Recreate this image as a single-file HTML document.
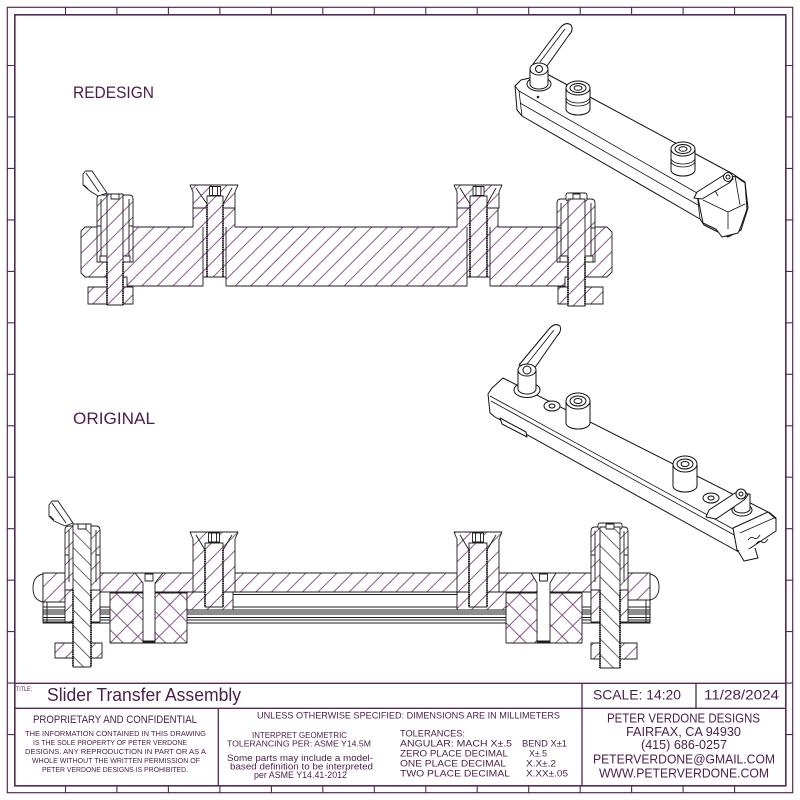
<!DOCTYPE html>
<html><head><meta charset="utf-8">
<style>
html,body{margin:0;padding:0;background:#fff;}
svg{display:block;}
.s{stroke:#1c1c1c;stroke-width:0.9;stroke-linejoin:round;}
.n{fill:none;}
.th{stroke:#222;stroke-width:2;stroke-dasharray:1.1 1.1;fill:none;}
.iso{stroke:#111;stroke-width:1;fill:#fff;stroke-linejoin:round;}
.iso .n{fill:none;stroke-width:0.8;}
.bd{fill:none;stroke:#552855;}
text{font-family:"Liberation Sans",sans-serif;fill:#4a1d4a;}
</style></head><body>
<svg width="800" height="800" viewBox="0 0 800 800" xmlns="http://www.w3.org/2000/svg">
<defs>
<pattern id="h" patternUnits="userSpaceOnUse" width="11" height="11" patternTransform="rotate(45)">
<rect width="11" height="11" fill="#fff"/>
<line x1="5.5" y1="0" x2="5.5" y2="11" stroke="#7d467d" stroke-width="0.9"/>
</pattern>
<pattern id="hr" patternUnits="userSpaceOnUse" width="11" height="11" patternTransform="rotate(-45)">
<rect width="11" height="11" fill="#fff"/>
<line x1="5.5" y1="0" x2="5.5" y2="11" stroke="#444" stroke-width="0.8"/>
</pattern>
<pattern id="x" patternUnits="userSpaceOnUse" width="15" height="15" patternTransform="rotate(45)">
<rect width="15" height="15" fill="#fff"/>
<line x1="7.5" y1="0" x2="7.5" y2="15" stroke="#7d467d" stroke-width="0.9"/>
<line x1="0" y1="7.5" x2="15" y2="7.5" stroke="#7d467d" stroke-width="0.9"/>
</pattern>
</defs>

<!-- BORDER -->
<rect x="7.3" y="7.3" width="785.4" height="785.4" class="bd" stroke-width="1.2"/>
<rect x="14.8" y="14.8" width="771" height="771" class="bd" stroke-width="1.6" stroke="#6a3d6a"/>
<path class="bd" stroke-width="1.1" d="
M65.5 7.3V14.8M116.9 7.3V14.8M168.4 7.3V14.8M219.9 7.3V14.8M271.4 7.3V14.8M322.8 7.3V14.8M374.3 7.3V14.8M425.8 7.3V14.8M477.2 7.3V14.8M528.7 7.3V14.8M580.2 7.3V14.8M631.6 7.3V14.8M683.1 7.3V14.8M734.6 7.3V14.8
M65.5 785.8V792.7M116.9 785.8V792.7M168.4 785.8V792.7M219.9 785.8V792.7M271.4 785.8V792.7M322.8 785.8V792.7M374.3 785.8V792.7M425.8 785.8V792.7M477.2 785.8V792.7M528.7 785.8V792.7M580.2 785.8V792.7M631.6 785.8V792.7M683.1 785.8V792.7M734.6 785.8V792.7
M7.3 65.5H14.8M7.3 116.9H14.8M7.3 168.4H14.8M7.3 219.9H14.8M7.3 271.4H14.8M7.3 322.8H14.8M7.3 374.3H14.8M7.3 425.8H14.8M7.3 477.2H14.8M7.3 528.7H14.8M7.3 580.2H14.8M7.3 631.6H14.8M7.3 683.1H14.8M7.3 734.6H14.8
M785.8 65.5H792.7M785.8 116.9H792.7M785.8 168.4H792.7M785.8 219.9H792.7M785.8 271.4H792.7M785.8 322.8H792.7M785.8 374.3H792.7M785.8 425.8H792.7M785.8 477.2H792.7M785.8 528.7H792.7M785.8 580.2H792.7M785.8 631.6H792.7M785.8 683.1H792.7M785.8 734.6H792.7"/>

<!-- TITLE BLOCK LINES -->
<path class="bd" stroke-width="1.3" d="M14.8 683.3H785.8M14.8 708.3H785.8M582 683.3V785.8M696 683.3V708.3M218.3 708.3V785.8"/>

<!-- LABELS -->
<text x="73" y="98" font-size="17" textLength="81" lengthAdjust="spacingAndGlyphs">REDESIGN</text>
<text x="73" y="424" font-size="17" textLength="82" lengthAdjust="spacingAndGlyphs">ORIGINAL</text>

<!-- TITLE BLOCK TEXT -->
<text x="16" y="691" font-size="6" textLength="16" lengthAdjust="spacingAndGlyphs">TITLE:</text>
<text x="47" y="701" font-size="18.5" textLength="194" lengthAdjust="spacingAndGlyphs">Slider Transfer Assembly</text>
<text x="593" y="699.5" font-size="14" textLength="88" lengthAdjust="spacingAndGlyphs">SCALE: 14:20</text>
<text x="704" y="699.5" font-size="14" textLength="75" lengthAdjust="spacingAndGlyphs">11/28/2024</text>
<text x="33" y="723" font-size="11" textLength="164" lengthAdjust="spacingAndGlyphs">PROPRIETARY AND CONFIDENTIAL</text>
<g font-size="7.3">
<text x="25" y="736" textLength="181" lengthAdjust="spacingAndGlyphs">THE INFORMATION CONTAINED IN THIS DRAWING</text>
<text x="33" y="745" textLength="154" lengthAdjust="spacingAndGlyphs">IS THE SOLE PROPERTY OF PETER VERDONE</text>
<text x="25" y="754" textLength="181" lengthAdjust="spacingAndGlyphs">DESIGNS.  ANY  REPRODUCTION IN PART OR AS A</text>
<text x="32" y="763" textLength="168" lengthAdjust="spacingAndGlyphs">WHOLE WITHOUT THE WRITTEN PERMISSION OF</text>
<text x="42" y="772" textLength="146" lengthAdjust="spacingAndGlyphs">PETER VERDONE DESIGNS IS PROHIBITED.</text>
</g>
<text x="257" y="718.5" font-size="9" textLength="303" lengthAdjust="spacingAndGlyphs">UNLESS OTHERWISE SPECIFIED: DIMENSIONS ARE IN MILLIMETERS</text>
<text x="252" y="738" font-size="8.5" textLength="95" lengthAdjust="spacingAndGlyphs">INTERPRET GEOMETRIC</text>
<text x="227" y="746.5" font-size="8.5" textLength="144" lengthAdjust="spacingAndGlyphs">TOLERANCING PER: ASME Y14.5M</text>
<text x="227" y="761" font-size="9.5" textLength="146" lengthAdjust="spacingAndGlyphs">Some parts may include a model-</text>
<text x="230" y="769.5" font-size="9.5" textLength="143" lengthAdjust="spacingAndGlyphs">based definition to be interpreted</text>
<text x="254" y="778" font-size="9.5" textLength="93" lengthAdjust="spacingAndGlyphs">per ASME Y14.41-2012</text>
<g font-size="9.5">
<text x="400" y="736.5" textLength="65" lengthAdjust="spacingAndGlyphs">TOLERANCES:</text>
<text x="400" y="746.5" textLength="112" lengthAdjust="spacingAndGlyphs">ANGULAR: MACH X±.5</text>
<text x="522" y="746.5" textLength="45" lengthAdjust="spacingAndGlyphs">BEND X±1</text>
<text x="400" y="756.5" textLength="108" lengthAdjust="spacingAndGlyphs">ZERO PLACE DECIMAL</text>
<text x="529" y="756.5" textLength="18" lengthAdjust="spacingAndGlyphs">X±.5</text>
<text x="400" y="766.5" textLength="106" lengthAdjust="spacingAndGlyphs">ONE PLACE DECIMAL</text>
<text x="526" y="766.5" textLength="30" lengthAdjust="spacingAndGlyphs">X.X±.2</text>
<text x="400" y="776.5" textLength="110" lengthAdjust="spacingAndGlyphs">TWO PLACE DECIMAL</text>
<text x="526" y="776.5" textLength="42" lengthAdjust="spacingAndGlyphs">X.XX±.05</text>
</g>
<g font-size="12.5">
<text x="607" y="722.5" textLength="153" lengthAdjust="spacingAndGlyphs">PETER VERDONE DESIGNS</text>
<text x="626" y="736" textLength="115" lengthAdjust="spacingAndGlyphs">FAIRFAX, CA 94930</text>
<text x="641" y="749" textLength="86" lengthAdjust="spacingAndGlyphs">(415) 686-0257</text>
<text x="593" y="763.3" textLength="182" lengthAdjust="spacingAndGlyphs">PETERVERDONE@GMAIL.COM</text>
<text x="599" y="777.3" textLength="170" lengthAdjust="spacingAndGlyphs">WWW.PETERVERDONE.COM</text>
</g>

<!-- ================= REDESIGN SECTION ================= -->
<g class="s">
<path fill="url(#h)" d="M85 227 L193 227 L193 208 L235 208 L235 227 L457 227 L457 208 L498 208 L498 227 L607 227 L612 232 L612 272 L607 277 L565 277 L565 286 L490 286 L490 277 L467 277 L467 286 L226 286 L226 277 L203 277 L203 286 L127 286 L127 277 L85 277 L81 273 L81 231 Z"/>
<!-- insert 1 -->
<path fill="url(#h)" d="M190 185 L238 185 L235 192 L235 208 L193 208 L193 192 Z"/>
<rect x="207" y="196" width="16" height="81" fill="url(#h)"/>
<path class="n" d="M196 188 L207 204 M232 188 L223 204 M203 227 V277 M226 227 V277"/>
<line class="th" x1="207" y1="205" x2="207" y2="277"/><line class="th" x1="223" y1="205" x2="223" y2="277"/>
<rect x="209.5" y="186.5" width="11" height="9" fill="#fff"/>
<path class="n" d="M212.5 186.5V195.5M217.5 186.5V195.5"/>
<!-- insert 2 -->
<path fill="url(#h)" d="M454 185 L502 185 L499 192 L499 208 L457 208 L457 192 Z"/>
<rect x="470" y="196" width="17" height="81" fill="url(#h)"/>
<path class="n" d="M460 188 L470 204 M496 188 L487 204 M467 227 V277 M490 227 V277"/>
<line class="th" x1="470" y1="205" x2="470" y2="277"/><line class="th" x1="487" y1="205" x2="487" y2="277"/>
<rect x="473" y="186.5" width="11" height="9" fill="#fff"/>
<path class="n" d="M476 186.5V195.5M481 186.5V195.5"/>

<!-- left clamp -->
<path fill="url(#h)" d="M97 262 L97 199 Q97 195 101 195 L129 195 Q133 195 133 199 L133 262 Z"/>
<path class="n" d="M101 199 V256 M129 199 V256 M97 226 H101 M129 226 H133"/>
<rect x="100" y="256" width="7" height="6" fill="#fff"/>
<rect x="123" y="256" width="7" height="6" fill="#fff"/>
<rect x="88" y="287" width="45" height="17" fill="url(#h)"/>
<rect x="107" y="194" width="16" height="111" fill="url(#h)"/>
<line class="th" x1="107" y1="262" x2="107" y2="305"/><line class="th" x1="123" y1="262" x2="123" y2="305"/>
<rect x="111" y="194" width="8" height="5" fill="#fff"/>
<path fill="#fff" d="M83 185 L83 174 L85.5 171 L92 171 L107 193 L98 196 L90 191 Z"/>
<path class="n" d="M86 173 L99 192 M84 185 L88 189"/>

<!-- right clamp -->
<path fill="url(#h)" d="M557 262 L557 203 Q557 199 561 199 L591 199 Q595 199 595 203 L595 262 Z"/>
<path class="n" d="M561 203 V256 M591 203 V256 M557 228 H561 M591 228 H595"/>
<rect x="560" y="256" width="8" height="6" fill="#fff"/>
<rect x="585" y="256" width="8" height="6" fill="#fff"/>
<rect x="558" y="287" width="45" height="17" fill="url(#h)"/>
<rect x="566" y="193" width="21" height="8" rx="2" fill="#fff"/>
<rect x="568" y="199" width="17" height="107" fill="url(#h)"/>
<line class="th" x1="568" y1="257" x2="568" y2="306"/><line class="th" x1="585" y1="257" x2="585" y2="306"/>
<rect x="573" y="194" width="7" height="5" fill="#fff"/>
</g>

<!-- ================= ORIGINAL SECTION ================= -->
<g class="s">
<!-- rail -->
<rect x="43" y="592" width="607" height="31" fill="#fff"/>
<path class="n" d="M43 607 H650 M43 610 H650 M43 612 H650 M43 614 H650 M43 617.5 H650 M43 620 H650 M233 594.5 H457"/>
<!-- plate -->
<rect x="43" y="573" width="607" height="19" fill="url(#h)"/>
<!-- left end cap -->
<path fill="#fff" d="M43 574 Q33 576 33 588 Q33 600 43 602 Z"/>
<rect x="43" y="573" width="22" height="29" fill="url(#h)"/>
<path class="n" d="M43 602 V622 M47 602 V622 M43 622 H65"/>
<!-- right end cap -->
<path fill="#fff" d="M650 574 Q659 576 659 587 Q659 598 650 600 Z"/>
<rect x="628" y="573" width="22" height="27" fill="url(#h)"/>
<path class="n" d="M650 600 V622 M646 600 V622 M628 622 H650"/>
<!-- cross-hatched blocks -->
<rect x="110" y="593" width="77" height="50" fill="url(#x)"/>
<rect x="506" y="593" width="76" height="50" fill="url(#x)"/>
<!-- countersunk screws -->
<path fill="#fff" d="M135 573 L163 573 L155 583 L155 642 L143 642 L143 583 Z"/>
<rect x="145" y="574" width="8" height="7" fill="#fff"/>
<line x1="143" y1="641.5" x2="155" y2="641.5" stroke-width="2"/>
<path fill="#fff" d="M531 573 L556 573 L550 583 L550 642 L537 642 L537 583 Z"/>
<rect x="539.5" y="574" width="8" height="7" fill="#fff"/>
<line x1="537" y1="641.5" x2="550" y2="641.5" stroke-width="2"/>
<!-- insert 1 -->
<rect x="187" y="592" width="46" height="18" fill="url(#h)"/>
<path fill="url(#h)" d="M190 532 L238 532 L235 539 L235 592 L193 592 L193 539 Z"/>
<rect x="205" y="543" width="18" height="64" fill="url(#h)"/>
<path class="n" d="M196 535 L205 550 M232 535 L223 550"/>
<line class="th" x1="205" y1="550" x2="205" y2="607"/><line class="th" x1="223" y1="550" x2="223" y2="607"/>
<rect x="208.5" y="533" width="11" height="9" fill="#fff"/>
<path class="n" d="M211.5 533V542M216.5 533V542"/>
<!-- insert 2 -->
<rect x="457" y="592" width="49" height="18" fill="url(#h)"/>
<path fill="url(#h)" d="M454 532 L502 532 L499 539 L499 592 L457 592 L457 539 Z"/>
<rect x="469" y="543" width="18" height="64" fill="url(#h)"/>
<path class="n" d="M460 535 L469 550 M496 535 L487 550"/>
<line class="th" x1="469" y1="550" x2="469" y2="607"/><line class="th" x1="487" y1="550" x2="487" y2="607"/>
<rect x="472.5" y="533" width="11" height="9" fill="#fff"/>
<path class="n" d="M475.5 533V542M480.5 533V542"/>

<!-- left clamp -->
<path fill="url(#h)" d="M65 622 L65 530 Q65 526 69 526 L96 526 Q100 526 100 530 L100 622 Z"/>
<path class="n" d="M69 530 V582 M96 530 V582 M65 555 H69 M96 555 H100 M65 590 H100"/>
<rect x="55" y="643" width="47" height="15" fill="url(#h)"/>
<rect x="73" y="524" width="18" height="143" fill="url(#hr)"/>
<line class="th" x1="73" y1="590" x2="73" y2="667"/><line class="th" x1="91" y1="590" x2="91" y2="667"/>
<rect x="78" y="524" width="8" height="5" fill="#fff"/>
<path fill="#fff" d="M49 516 L49 505 L52 501 L58 501 L73 523 L65 526 L54 521 Z"/>
<path class="n" d="M52 503 L66 523 M50 516 L54 520"/>

<!-- right clamp -->
<path fill="url(#h)" d="M591 622 L591 531 Q591 527 595 527 L624 527 Q628 527 628 531 L628 622 Z"/>
<path class="n" d="M595 531 V582 M624 531 V582 M591 555 H595 M624 555 H628 M591 590 H628"/>
<rect x="591" y="643" width="46" height="16" fill="url(#h)"/>
<rect x="598" y="523" width="24" height="6" rx="2" fill="#fff"/>
<rect x="600" y="527" width="20" height="141" fill="url(#hr)"/>
<line class="th" x1="600" y1="590" x2="600" y2="668"/><line class="th" x1="620" y1="590" x2="620" y2="668"/>
<rect x="606" y="524" width="8" height="5" fill="#fff"/>
</g>

<!-- ================= ISO VIEW (REDESIGN) ================= -->
<g class="iso">
<path d="M515 86 L521 80 L547 74 L733 174 L745 182 L748 208 L741 230 L728 237 L704 225 L700 219 L522 116 L517 110 Z"/>
<path class="n" d="M519 91 L697 193 M520 103 L698 205 M515 86 L519 91 L522 116 M697 193 L700 219"/>
<path d="M697 193 L712 185 L735 176 L745 183 L747 209 L740 229 L728 235 L703 223 Z"/>
<path class="n" d="M703 200 L728 212 L745 204 M728 212 L728 235 M712 185 L718 196 M735 176 L740 205"/>
<path d="M716 229 L722 237 L738 233 L740 229"/>
<path d="M694 198 L697 192 L724 175 L731 174 L733 179 L729 183 L702 199 Z"/>
<circle cx="728" cy="177" r="4.5"/><circle cx="728" cy="177" r="2"/>
<!-- left hub + lever -->
<ellipse cx="539" cy="84" rx="12" ry="7"/>
<path d="M530 69 L530 84 A9 5 0 0 0 548 84 L548 69 Z"/>
<path d="M533 64 L560 28 Q566 21 571 25 Q574 30 569 35 L547 66 Z"/>
<path class="n" d="M540 62 L565 29"/>
<ellipse cx="539" cy="69" rx="9" ry="6"/>
<circle cx="539" cy="69" r="3.5"/>
<!-- roller 1 -->
<path d="M566 88 L566 109 A12 6 0 0 0 590 109 L590 88 Z"/>
<path class="n" d="M566 97 A12 6 0 0 0 590 97 M566 100 A12 6 0 0 0 590 100"/>
<ellipse cx="578" cy="88" rx="12" ry="7"/>
<ellipse cx="578" cy="88" rx="8" ry="4.5"/>
<ellipse cx="578" cy="88" rx="4" ry="2.3"/>
<!-- roller 2 -->
<path d="M671 149 L671 170 A12 6 0 0 0 695 170 L695 149 Z"/>
<path class="n" d="M671 158 A12 6 0 0 0 695 158 M671 161 A12 6 0 0 0 695 161"/>
<ellipse cx="683" cy="149" rx="12" ry="7"/>
<ellipse cx="683" cy="149" rx="8" ry="4.5"/>
<ellipse cx="683" cy="149" rx="4" ry="2.3"/>
<circle cx="538" cy="97" r="0.8"/>
</g>

<!-- ================= ISO VIEW (ORIGINAL) ================= -->
<g class="iso">
<path d="M488 394 L492 388 L503 378 L770 513 L776 518 L776 530 L742 553 L737 551 L495 417 L490 413 Z"/>
<path class="n" d="M490 396 L735 530 M491 401 L736 536 M735 530 L738 551"/>
<path d="M500 418 L526 432 L527 437 L502 424 Z"/>
<path d="M733 528 L768 512 L776 519 L776 531 L743 553 L737 550 Z"/>
<path class="n" d="M740 533 L774 518"/>
<path class="n" d="M748 540 q3 -4 6 -2 q3 2 6 -3 M756 544 q3 -4 6 -2 q3 2 6 -3"/>
<path d="M738 551 L744 561 L758 558 L755 548"/>
<!-- holes -->
<ellipse cx="552" cy="406" rx="8" ry="5"/><ellipse cx="552" cy="406" rx="3" ry="2"/>
<ellipse cx="711" cy="498" rx="8" ry="5"/><ellipse cx="711" cy="498" rx="3" ry="2"/>
<!-- lever hub -->
<ellipse cx="527" cy="390" rx="13" ry="7.5"/>
<path d="M518 370 L518 389 A9 5 0 0 0 536 389 L536 370 Z"/>
<path d="M519 365 L549 329 Q555 322 560 326 Q562 331 557 336 L534 369 Z"/>
<path class="n" d="M527 364 L554 330"/>
<ellipse cx="527" cy="370" rx="9" ry="6"/>
<circle cx="527" cy="370" r="4"/>
<!-- roller 1 -->
<path d="M566 401 L566 423 A12 6 0 0 0 590 423 L590 401 Z"/>
<ellipse cx="578" cy="401" rx="12" ry="8"/>
<ellipse cx="578" cy="401" rx="8" ry="5"/>
<ellipse cx="578" cy="401" rx="4" ry="2.5"/>
<!-- roller 2 -->
<path d="M673 464 L673 486 A12 6 0 0 0 697 486 L697 464 Z"/>
<ellipse cx="685" cy="464" rx="12" ry="8"/>
<ellipse cx="685" cy="464" rx="8" ry="5"/>
<ellipse cx="685" cy="464" rx="4" ry="2.5"/>
<!-- right lever -->
<ellipse cx="742" cy="510" rx="10" ry="6"/>
<path d="M734 494 L734 509 A8 4 0 0 0 750 509 L750 494 Z"/>
<path d="M706 517 L709 510 L735 493 L744 490 L748 495 L744 500 L716 519 Z"/>
<circle cx="741" cy="494" r="5"/><circle cx="741" cy="494" r="2"/>
</g>
</svg>
</body></html>
